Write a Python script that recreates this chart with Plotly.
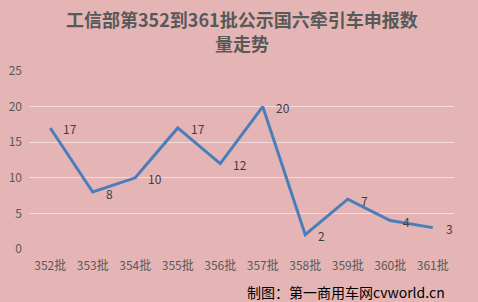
import plotly.graph_objects as go

categories = ["352批", "353批", "354批", "355批", "356批", "357批", "358批", "359批", "360批", "361批"]
values = [17, 8, 10, 17, 12, 20, 2, 7, 4, 3]
title_lines = ["工信部第352到361批公示国六牵引车申报数", "量走势"]
credit_text = "制图：第一商用车网cvworld.cn"

BG = "#E5B5B5"
FONT = "Noto Sans CJK SC, Liberation Sans, sans-serif"

fig = go.Figure()
fig.add_trace(go.Scatter(
    x=categories, y=values, mode="lines",
    line=dict(color="#4A7EBB", width=3),
    hoverinfo="skip",
))

for c, v in zip(categories, values):
    fig.add_annotation(x=c, y=v, text=str(v), showarrow=False,
                       xanchor="left", yanchor="middle", xshift=11, yshift=-1,
                       font=dict(size=12, color="#404040", family=FONT))

fig.update_layout(
    width=478, height=302,
    paper_bgcolor=BG, plot_bgcolor=BG,
    margin=dict(l=29, r=24, t=71, b=53),
    showlegend=False,
    font=dict(family=FONT, color="#595959", size=12),
)
for line, ypos in zip(title_lines, [1.293, 1.155]):
    fig.add_annotation(text="<b>" + line + "</b>", xref="paper", yref="paper",
                       x=0.5, y=ypos, xanchor="center", yanchor="middle", showarrow=False,
                       borderpad=0,
                       font=dict(size=18, color="#595959", family=FONT))
fig.update_xaxes(type="category", showgrid=False, showline=False, zeroline=False,
                 ticks="", tickfont=dict(size=12, color="#595959"),
                 range=[-0.5, 9.5], ticklabelstandoff=8, automargin=False)
fig.update_yaxes(range=[0, 25], dtick=5, showgrid=True, gridcolor="#F2DCDB",
                 gridwidth=1, zeroline=False, showline=False, ticks="",
                 tickfont=dict(size=12, color="#595959"), ticklabelstandoff=6,
                 automargin=False)
fig.add_annotation(text=credit_text, xref="paper", yref="paper", x=0.984, y=-0.243,
                   xanchor="right", yanchor="middle", showarrow=False,
                   font=dict(size=14, color="#000000", family=FONT))

fig.write_html("out.html")
